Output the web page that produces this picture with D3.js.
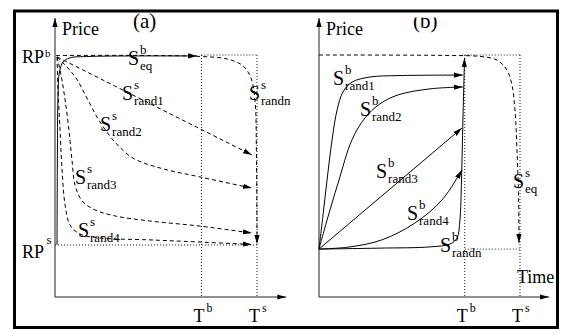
<!DOCTYPE html>
<html>
<head>
<meta charset="utf-8">
<script src="https://cdn.jsdelivr.net/npm/d3@7/dist/d3.min.js"></script>
<style>
  html, body { margin: 0; padding: 0; background: #fff; }
</style>
</head>
<body>
<svg id="fig" width="561" height="333" font-family="Liberation Serif, DejaVu Serif, serif"></svg>
<script>
// Time is measured in units of the seller deadline T^s,
// price in units of the buyer reserve price RP^b.
const deadlineNames = ["b", "s"];
const deadlineTimes = [0.725, 1.0];
const reserveNames = ["b", "s"];
const reserveBuyer = 1.0;
const reserveSellerA = 0.215;
const reserveSellerB = 0.198;
const axisMax = { t: 1.145, p: 1.153 };

// Panel (a): seller strategies against the buyer's equilibrium strategy
const buyerEqA = [[0.010,0.215],[0.012,0.607],[0.015,0.835],[0.022,0.930],[0.040,0.971],
  [0.074,0.988],[0.173,0.994],[0.703,0.996]];
const sellerRandnA = [[0.005,0.998],[0.470,0.998],[0.718,0.994],[0.856,0.983],[0.931,0.955],
  [0.970,0.905],[0.990,0.814],[0.997,0.607],[1.000,0.219]];
const sellerRand1A = [[0.010,0.992],[0.975,0.587]];
const sellerRand2A = [[0.010,0.992],[0.054,0.955],[0.104,0.905],[0.163,0.814],[0.223,0.723],
  [0.297,0.640],[0.386,0.574],[0.520,0.533],[0.718,0.496],[0.975,0.450]];
const sellerRand3A = [[0.010,0.992],[0.030,0.917],[0.050,0.814],[0.069,0.690],[0.084,0.566],
  [0.099,0.463],[0.134,0.397],[0.198,0.360],[0.297,0.335],[0.470,0.314],[0.718,0.293],[0.975,0.264]];
const sellerRand4A = [[0.010,0.992],[0.015,0.855],[0.025,0.690],[0.035,0.525],[0.050,0.380],
  [0.074,0.298],[0.124,0.260],[0.223,0.244],[0.470,0.236],[0.718,0.227],[0.975,0.217]];

// Panel (b): buyer strategies against the seller's equilibrium strategy
const buyerRand1B = [[0,0.198],[0.020,0.339],[0.040,0.483],[0.065,0.649],[0.090,0.773],
  [0.119,0.847],[0.164,0.888],[0.254,0.909],[0.403,0.915],[0.716,0.917]];
const buyerRand2B = [[0,0.198],[0.040,0.318],[0.095,0.471],[0.164,0.649],[0.229,0.740],
  [0.303,0.798],[0.393,0.835],[0.552,0.860],[0.716,0.868]];
const buyerRand3B = [[0,0.198],[0.711,0.698]];
const buyerRand4B = [[0,0.198],[0.154,0.207],[0.313,0.236],[0.478,0.306],[0.612,0.401],[0.711,0.525]];
const buyerRandnB = [[0,0.198],[0.303,0.202],[0.552,0.207],[0.652,0.219],[0.687,0.244],
  [0.701,0.318],[0.709,0.483],[0.716,0.731],[0.724,0.988]];
const sellerEqB = [[0,1.0],[0.652,0.998],[0.801,0.994],[0.886,0.979],[0.935,0.938],
  [0.960,0.876],[0.975,0.773],[0.985,0.607],[0.993,0.401],[0.995,0.223]];

// Strategy labels S^sup_sub, anchored at [time, price]
const labelsA = [
  { sup: "b", sub: "eq",    at: [0.361, 0.959] },
  { sup: "s", sub: "rand1", at: [0.332, 0.814] },
  { sup: "s", sub: "randn", at: [0.960, 0.814] },
  { sup: "s", sub: "rand2", at: [0.223, 0.686] },
  { sup: "s", sub: "rand3", at: [0.099, 0.467] },
  { sup: "s", sub: "rand4", at: [0.114, 0.248] }
];
const labelsB = [
  { sup: "b", sub: "rand1", at: [0.070, 0.876] },
  { sup: "b", sub: "rand2", at: [0.204, 0.748] },
  { sup: "b", sub: "rand3", at: [0.284, 0.492] },
  { sup: "b", sub: "rand4", at: [0.438, 0.318] },
  { sup: "b", sub: "randn", at: [0.602, 0.186] },
  { sup: "s", sub: "eq",    at: [0.965, 0.450] }
];

const FONT = "'Liberation Serif', 'DejaVu Serif', serif";
const svg = d3.select("#fig");
const y = d3.scaleLinear().domain([0, 1]).range([297, 55]);
const xA = d3.scaleLinear().domain([0, 1]).range([55, 257]);
const xB = d3.scaleLinear().domain([0, 1]).range([319, 520]);

const defs = svg.append("defs");
defs.append("marker")
  .attr("id", "arrow").attr("viewBox", "0 -3 9 6")
  .attr("refX", 9).attr("refY", 0)
  .attr("markerWidth", 9).attr("markerHeight", 6)
  .attr("markerUnits", "userSpaceOnUse").attr("orient", "auto")
  .append("path").attr("d", "M0,-2.6L9,0L0,2.6Z").attr("fill", "#000");
defs.append("clipPath").attr("id", "headClip")
  .append("rect").attr("x", 0).attr("y", 17.5).attr("width", 561).attr("height", 40);

const DASH = "4,3", DOT = "1,2";

function txt(sel, x, yPos, size, s) {
  return sel.append("text").attr("x", x).attr("y", yPos)
    .style("font-family", FONT).style("font-size", size + "px").text(s);
}

function panel(x, name, rpSeller, curves, labels, showTime) {
  const g = svg.append("g");
  const line = d3.line().x(d => x(d[0])).y(d => y(d[1])).curve(d3.curveCatmullRom.alpha(0.5));

  // guide lines at the deadlines and reserve prices
  const guides = g.append("g").attr("stroke", "#000").attr("stroke-width", 0.9)
    .attr("stroke-dasharray", DOT).attr("fill", "none");
  deadlineTimes.forEach(t => guides.append("line")
    .attr("x1", x(t)).attr("x2", x(t)).attr("y1", y(reserveBuyer)).attr("y2", y(0)));
  guides.append("line").attr("x1", x(deadlineTimes[0])).attr("x2", x(deadlineTimes[1]))
    .attr("y1", y(reserveBuyer)).attr("y2", y(reserveBuyer));
  guides.append("line").attr("x1", x(rpSeller.from)).attr("x2", x(deadlineTimes[1]))
    .attr("y1", y(rpSeller.p)).attr("y2", y(rpSeller.p));

  // axes
  const ax = g.append("g").attr("stroke", "#222").attr("stroke-width", 1).attr("fill", "none");
  ax.append("line").attr("x1", x(0)).attr("x2", x(0)).attr("y1", y(0)).attr("y2", y(axisMax.p))
    .attr("marker-end", "url(#arrow)");
  ax.append("line").attr("x1", x(0)).attr("x2", x(axisMax.t)).attr("y1", y(0)).attr("y2", y(0))
    .attr("marker-end", "url(#arrow)");

  // strategy curves
  g.append("g").selectAll("path").data(curves).join("path")
    .attr("d", c => line(c.pts))
    .attr("fill", "none").attr("stroke", "#000").attr("stroke-width", 1)
    .attr("stroke-dasharray", c => c.dashed ? DASH : null)
    .attr("marker-end", "url(#arrow)");

  // strategy labels
  const lab = g.append("g").selectAll("g").data(labels).join("g")
    .attr("transform", d => `translate(${x(d.at[0])},${y(d.at[1])})`);
  lab.each(function(d) {
    const s = d3.select(this);
    txt(s, 0, 0, 20, "S");
    txt(s, 12, -11, 13, d.sup);
    txt(s, 12, 5, 13, d.sub);
  });

  // axis title and panel heading
  txt(g, x(0) + 7, 35, 18, "Price");
  const head = txt(g, name.x, 28, 21, name.text);
  if (name.clipped) head.attr("clip-path", "url(#headClip)");

  // deadline tick labels
  deadlineTimes.forEach((t, i) => {
    txt(g, x(t) - 8, 322, 18, "T");
    txt(g, x(t) + 5, 312, 12, deadlineNames[i]);
  });
  if (showTime) txt(g, x(0.985), 283, 18, "Time");
  return g;
}

const gA = panel(xA, { text: "(a)", x: 133, clipped: false }, { p: reserveSellerA, from: 0 }, [
  { pts: buyerEqA, dashed: false },
  { pts: sellerRandnA, dashed: true },
  { pts: sellerRand1A, dashed: true },
  { pts: sellerRand2A, dashed: true },
  { pts: sellerRand3A, dashed: true },
  { pts: sellerRand4A, dashed: true }
], labelsA, false);

// reserve price labels on the price axis of panel (a)
txt(gA, 22, y(reserveBuyer) + 8, 18, "RP");
txt(gA, 45, y(reserveBuyer) + 2, 11, reserveNames[0]);
txt(gA, 22, y(reserveSellerA) + 13, 18, "RP");
txt(gA, 46.5, y(reserveSellerA) - 1, 13, reserveNames[1]);

panel(xB, { text: "(b)", x: 413, clipped: true }, { p: reserveSellerB, from: deadlineTimes[0] }, [
  { pts: buyerRand1B, dashed: false },
  { pts: buyerRand2B, dashed: false },
  { pts: buyerRand3B, dashed: false },
  { pts: buyerRand4B, dashed: false },
  { pts: buyerRandnB, dashed: false },
  { pts: sellerEqB, dashed: true }
], labelsB, true);

// frame around both panels
svg.append("rect").attr("x", 14.5).attr("y", 11).attr("width", 543).attr("height", 316.5)
  .attr("fill", "none").attr("stroke", "#000").attr("stroke-width", 3);
</script>
</body>
</html>
